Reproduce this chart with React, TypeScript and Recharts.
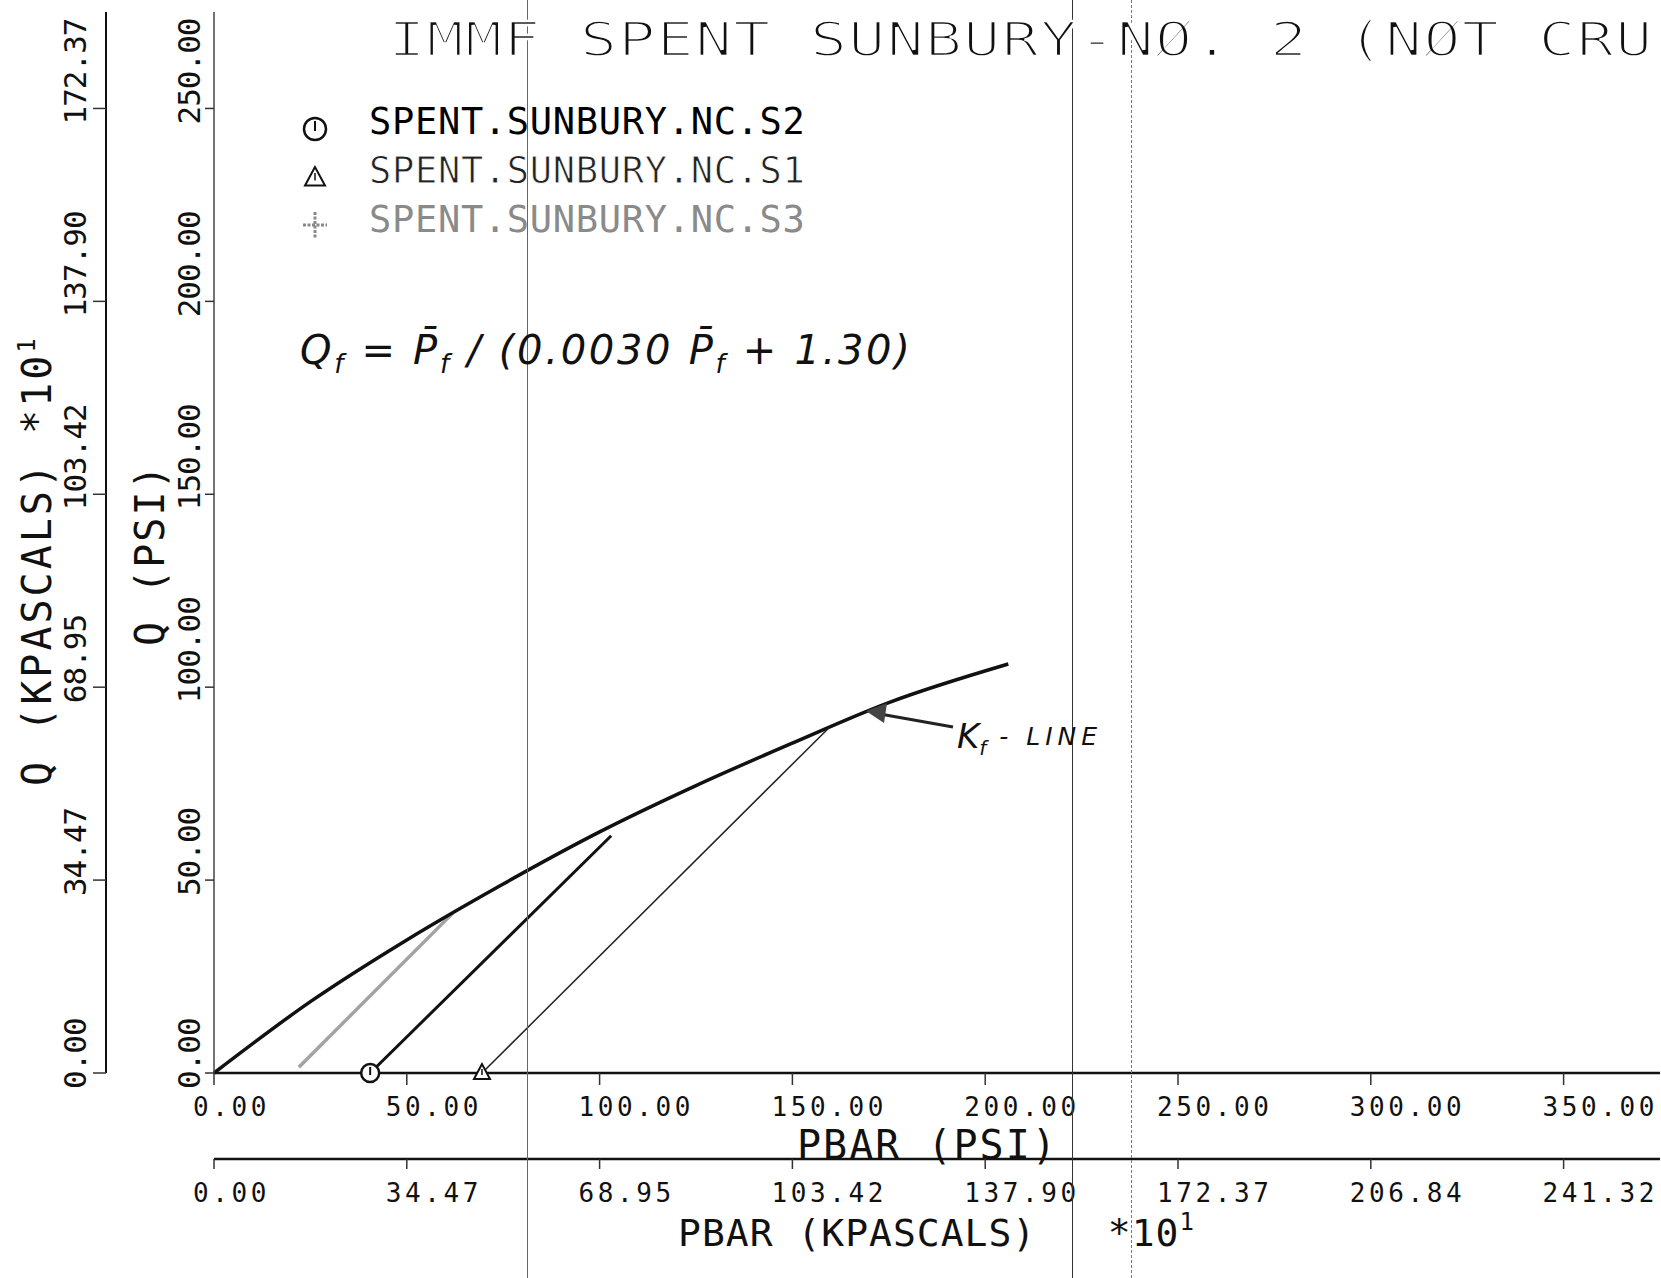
import React from 'react';
import { LineChart, Line, XAxis, YAxis } from 'recharts';

// axis ticks (psi positions) and their printed labels
const psiTicksX = [0, 50, 100, 150, 200, 250, 300, 350];
const psiLabelsX = ['0.00', '50.00', '100.00', '150.00', '200.00', '250.00', '300.00', '350.00'];
const kpaLabelsX = ['0.00', '34.47', '68.95', '103.42', '137.90', '172.37', '206.84', '241.32'];
const psiTicksY = [0, 50, 100, 150, 200, 250];
const psiLabelsY = ['0.00', '50.00', '100.00', '150.00', '200.00', '250.00'];
const kpaLabelsY = ['0.00', '34.47', '68.95', '103.42', '137.90', '172.37'];

// Kf line (PBAR psi / Q psi)
const kfP = [0, 25, 50, 75, 100, 125, 150, 175, 206];
const kfQ = [0, 18.5, 34.5, 49, 62.5, 74.5, 85.5, 96, 106];

// stress paths
const s2P = [40.5, 103];
const s2Q = [0, 61.5];
const s1P = [69.5, 159.5];
const s1Q = [0, 89.5];
const s3P = [22, 62];
const s3Q = [1.5, 41.5];

const toPoints = (p: number[], q: number[]) => p.map((v, i) => ({ p: v, q: q[i] }));

const MONO = '"DejaVu Sans Mono", monospace';
const HAND = '"DejaVu Sans", sans-serif';
const NB = '\u00A0';

function pickLabel(props: any) {
  const { payload, index, labels, ticks } = props;
  const i = ticks.indexOf(payload?.value);
  if (i >= 0) return labels[i];
  return labels[index] ?? String(payload?.value ?? '');
}

function XTick(props: any) {
  const { x, baseY } = props;
  return (
    <text x={x - 21} y={baseY} fontFamily={MONO} fontSize={26} letterSpacing={3.6} fill="#111">
      {pickLabel(props)}
    </text>
  );
}

function YTick(props: any) {
  const { y, bx } = props;
  const sy = y + 16;
  return (
    <text x={bx} y={sy} transform={`rotate(-90 ${bx} ${sy})`} fontFamily={MONO} fontSize={31} letterSpacing={-1} fill="#111">
      {pickLabel(props)}
    </text>
  );
}

function CircleMark({ cx, cy, r = 9 }: { cx: number; cy: number; r?: number }) {
  return (
    <g>
      <circle cx={cx} cy={cy} r={r} fill="#fff" stroke="#111" strokeWidth={2.5} />
      <line x1={cx} y1={cy - r + 3} x2={cx} y2={cy + 2} stroke="#111" strokeWidth={2} />
    </g>
  );
}

function TriMark({ cx, cy, s = 8 }: { cx: number; cy: number; s?: number }) {
  return (
    <g>
      <polygon points={`${cx},${cy - s - 1} ${cx - s},${cy + s * 0.75} ${cx + s},${cy + s * 0.75}`} fill="#fff" stroke="#111" strokeWidth={2} />
      <line x1={cx} y1={cy - s / 2} x2={cx} y2={cy + s / 4} stroke="#111" strokeWidth={1.5} />
    </g>
  );
}

function firstDot(kind: 'circle' | 'tri') {
  return (props: any) => {
    const { cx, cy, index } = props;
    if (index !== 0) return <g key={`d-${kind}-${index}`} />;
    return kind === 'circle' ? <CircleMark key="c0" cx={cx} cy={cy} /> : <TriMark key="t0" cx={cx} cy={cy} />;
  };
}

export default function App() {
  return (
    <div style={{ position: 'absolute', left: 0, top: 0, width: 1661, height: 1278, background: '#fff', overflow: 'hidden' }}>
      <LineChart width={1661} height={1278} margin={{ top: 12, right: 1, bottom: 0, left: 0 }}>
        <XAxis
          xAxisId={0}
          type="number"
          dataKey="p"
          domain={[0, 375]}
          ticks={psiTicksX}
          interval={0}
          height={86}
          tickSize={12}
          axisLine={{ stroke: '#111', strokeWidth: 2.5 }}
          tickLine={{ stroke: '#333', strokeWidth: 1.5 }}
          tick={(pr: any) => <XTick {...pr} labels={psiLabelsX} ticks={psiTicksX} baseY={1116} />}
        />
        <XAxis
          xAxisId={1}
          type="number"
          dataKey="p"
          domain={[0, 375]}
          ticks={psiTicksX}
          interval={0}
          height={119}
          tickSize={10}
          axisLine={{ stroke: '#111', strokeWidth: 2.5 }}
          tickLine={{ stroke: '#333', strokeWidth: 1.5 }}
          tick={(pr: any) => <XTick {...pr} labels={kpaLabelsX} ticks={psiTicksX} baseY={1202} />}
        />
        <YAxis
          yAxisId={0}
          type="number"
          dataKey="q"
          domain={[0, 275]}
          ticks={psiTicksY}
          interval={0}
          width={108}
          tickSize={9}
          axisLine={{ stroke: '#444', strokeWidth: 1.5 }}
          tickLine={{ stroke: '#333', strokeWidth: 1.5 }}
          tick={(pr: any) => <YTick {...pr} labels={psiLabelsY} ticks={psiTicksY} bx={200} />}
        />
        <YAxis
          yAxisId={1}
          type="number"
          dataKey="q"
          domain={[0, 275]}
          ticks={psiTicksY}
          interval={0}
          width={106}
          tickSize={13}
          axisLine={{ stroke: '#111', strokeWidth: 2 }}
          tickLine={{ stroke: '#333', strokeWidth: 1.5 }}
          tick={(pr: any) => <YTick {...pr} labels={kpaLabelsY} ticks={psiTicksY} bx={86} />}
        />
        {/* invisible twin so the kPa axes carry a series */}
        <Line xAxisId={1} yAxisId={1} data={toPoints(kfP, kfQ)} dataKey="q" type="monotone" stroke="none" dot={false} isAnimationActive={false} />
        <Line xAxisId={0} yAxisId={0} data={toPoints(s3P, s3Q)} dataKey="q" type="linear" stroke="#a3a3a3" strokeWidth={3.5} dot={false} isAnimationActive={false} />
        <Line xAxisId={0} yAxisId={0} data={toPoints(kfP, kfQ)} dataKey="q" type="monotone" stroke="#111" strokeWidth={3.5} dot={false} isAnimationActive={false} />
        <Line xAxisId={0} yAxisId={0} data={toPoints(s2P, s2Q)} dataKey="q" type="linear" stroke="#111" strokeWidth={3} dot={firstDot('circle')} isAnimationActive={false} />
        <Line xAxisId={0} yAxisId={0} data={toPoints(s1P, s1Q)} dataKey="q" type="linear" stroke="#222" strokeWidth={1.5} dot={firstDot('tri')} isAnimationActive={false} />
      </LineChart>

      {/* scan fold lines */}
      <div style={{ position: 'absolute', left: 527, top: 0, width: 1, height: 1278, background: '#666' }} />
      <div style={{ position: 'absolute', left: 1072, top: 0, width: 1, height: 1278, background: '#333' }} />
      <div style={{ position: 'absolute', left: 1131, top: 0, width: 0, height: 1278, borderLeft: '1px dashed #777' }} />

      <svg width={1661} height={1278} style={{ position: 'absolute', left: 0, top: 0, pointerEvents: 'none' }}>
        <text transform="translate(388 56) scale(1.3 1)" fontFamily={MONO} fontSize={48} letterSpacing={0.6} fill="#111" stroke="#fff" strokeWidth={2.5}>
          IMMF SPENT SUNBURY-NØ. 2 (NØT CRU
        </text>

        {/* legend */}
        <CircleMark cx={315} cy={129} r={11} />
        <TriMark cx={315} cy={178} s={10} />
        <g stroke="#888" strokeWidth={3} strokeDasharray="3 1.5">
          <line x1={303} y1={225} x2={327} y2={225} />
          <line x1={315} y1={212} x2={315} y2={238} />
        </g>
        <text x={369} y={134} fontFamily={MONO} fontSize={37} letterSpacing={0.7} fill="#000">
          SPENT.SUNBURY.NC.S2
        </text>
        <text x={369} y={183} fontFamily={MONO} fontSize={37} letterSpacing={0.7} fill="#222" stroke="#fff" strokeWidth={0.8}>
          SPENT.SUNBURY.NC.S1
        </text>
        <text x={369} y={232} fontFamily={MONO} fontSize={37} letterSpacing={0.7} fill="#8a8a8a">
          SPENT.SUNBURY.NC.S3
        </text>

        {/* handwritten notes */}
        <text x={300} y={364} fontFamily={HAND} fontStyle="italic" fontSize={40} letterSpacing={2.7} fill="#111">
          Q<tspan dy={9} fontSize={26}>f</tspan>
          <tspan dy={-9}> = P̄</tspan>
          <tspan dy={9} fontSize={26}>f</tspan>
          <tspan dy={-9}> / (0.0030 P̄</tspan>
          <tspan dy={9} fontSize={26}>f</tspan>
          <tspan dy={-9}> + 1.30)</tspan>
        </text>
        <line x1={953} y1={727} x2={880} y2={714} stroke="#222" strokeWidth={3} />
        <polygon points="866,711 887,703 884,723" fill="#444" />
        <text x={957} y={748} fontFamily={HAND} fontStyle="italic" fill="#111">
          <tspan fontSize={34}>K</tspan>
          <tspan dy={7} fontSize={20}>f</tspan>
          <tspan dy={-10} fontSize={25} letterSpacing={5}>{` -${NB}LINE`}</tspan>
        </text>

        {/* axis titles */}
        <text x={797} y={1159} fontFamily={MONO} fontSize={40} letterSpacing={2} fill="#111">
          PBAR (PSI)
        </text>
        <text x={678} y={1246} fontFamily={MONO} fontSize={38} letterSpacing={1} fill="#111">
          {`PBAR (KPASCALS)${NB}${NB}${NB}*10`}
          <tspan dy={-16} fontSize={24}>1</tspan>
        </text>
        <text x={164} y={646} transform="rotate(-90 164 646)" fontFamily={MONO} fontSize={40} letterSpacing={2} fill="#111">
          Q (PSI)
        </text>
        <text x={51} y={786} transform="rotate(-90 51 786)" fontFamily={MONO} fontSize={40} letterSpacing={3} fill="#111">
          Q (KPASCALS) *10<tspan dy={-16} fontSize={24}>1</tspan>
        </text>
      </svg>
    </div>
  );
}
